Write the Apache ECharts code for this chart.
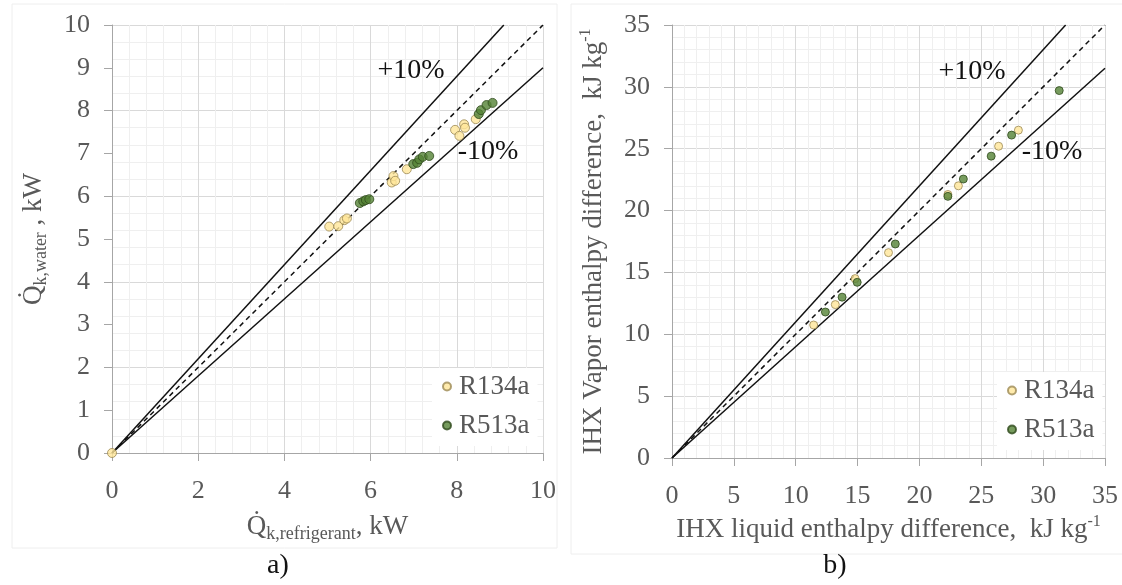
<!DOCTYPE html>
<html>
<head>
<meta charset="utf-8">
<script src="https://cdn.jsdelivr.net/npm/echarts@6/dist/echarts.min.js"></script>
<style>
  html, body { margin: 0; padding: 0; background: #fff; }
  #chart { width: 1122px; height: 585px; }
</style>
</head>
<body>
<div id="chart"></div>
<script>
// a) condenser capacity: water side vs refrigerant side, kW
const qRefrigR134a = [0, 5.04, 5.25, 5.39, 5.45, 6.49, 6.53, 6.57, 6.84, 7.96, 8.06, 8.17, 8.19, 8.44];
const qWaterR134a  = [0, 5.29, 5.30, 5.44, 5.48, 6.32, 6.47, 6.36, 6.63, 7.55, 7.41, 7.68, 7.60, 7.80];
const qRefrigR513a = [5.75, 5.83, 5.89, 5.97, 6.99, 7.08, 7.13, 7.21, 7.36, 8.51, 8.56, 8.69, 8.83];
const qWaterR513a  = [5.84, 5.88, 5.91, 5.93, 6.75, 6.78, 6.86, 6.92, 6.94, 7.92, 8.01, 8.13, 8.18];

// b) internal heat exchanger: vapour side vs liquid side enthalpy difference, kJ/kg
const ihxLiquidR134a = [11.45, 13.2, 14.8, 17.5, 22.3, 23.15, 26.4, 28.0];
const ihxVaporR134a  = [10.75, 12.4, 14.5, 16.6, 21.3, 22.0, 25.2, 26.5];
const ihxLiquidR513a = [12.4, 13.75, 14.97, 18.05, 22.3, 23.55, 25.8, 27.45, 31.3];
const ihxVaporR513a  = [11.8, 13.0, 14.2, 17.3, 21.15, 22.55, 24.4, 26.1, 29.7];

const seriesNames = ['R134a', 'R513a'];
const bandFactors = [1.1, 1.0, 0.9];       // +10 %, 1:1, -10 %
const axisMaxA = 10, axisMaxB = 35;

const SERIF = "'Liberation Serif', 'Times New Roman', serif";
const GREY = '#595959';

const pairs = (xs, ys) => xs.map((x, i) => [x, ys[i]]);
// straight line y = f·x from the origin to the edge of the square plot
const bandLine = (f, max) => [[0, 0], [Math.min(max, max / f), Math.min(max, max * f)]];

const r134aStyle = { color: '#FFE699', borderColor: '#9C8A55', borderWidth: 1 };
const r513aStyle = { color: '#548235', borderColor: '#2F4A1D', borderWidth: 1 };

function refLines(xi, yi, max) {
  return bandFactors.map(f => ({
    type: 'line', xAxisIndex: xi, yAxisIndex: yi, symbol: 'none', silent: true,
    data: bandLine(f, max), z: 3,
    lineStyle: { color: '#111', width: 1.5, type: f === 1 ? [5, 4] : 'solid' }
  }));
}

function scatter(name, xi, yi, data, style, size) {
  return {
    type: 'scatter', name, xAxisIndex: xi, yAxisIndex: yi, data,
    symbol: 'circle', symbolSize: size, itemStyle: style, clip: false, z: 5
  };
}

const nameRich = {
  sub: { fontSize: 18, fontFamily: SERIF, color: GREY, verticalAlign: 'bottom', lineHeight: 17 },
  sup: { fontSize: 16, fontFamily: SERIF, color: GREY, verticalAlign: 'top', lineHeight: 16 }
};
const nameStyle = { fontSize: 27, fontFamily: SERIF, color: GREY, lineHeight: 32, rich: nameRich };
const labelStyle = { fontSize: 26, fontFamily: SERIF, color: GREY };
const axisLine = { show: true, lineStyle: { color: '#a6a6a6', width: 1 } };
const axisTick = { show: true, length: 8, lineStyle: { color: '#a6a6a6' } };
const splitLine = { show: true, lineStyle: { color: '#d9d9d9', width: 1 } };
const minorSplit = { show: true, lineStyle: { color: '#efefef', width: 1 } };

const legendBase = {
  orient: 'vertical', data: seriesNames, icon: 'circle',
  itemWidth: 8, itemHeight: 8, itemGap: 12,
  backgroundColor: '#fff', padding: [5, 8, 7, 10],
  textStyle: { fontSize: 27, fontFamily: SERIF, color: GREY, padding: [0, 0, 0, 3] }
};

const option = {
  animation: false,
  backgroundColor: '#fff',
  grid: [
    { left: 112, top: 25, width: 431, height: 428 },
    { left: 672, top: 25, width: 433, height: 433 }
  ],
  xAxis: [
    {
      type: 'value', gridIndex: 0, min: 0, max: axisMaxA, interval: 2,
      axisLine, axisTick, axisLabel: { ...labelStyle, margin: 25 },
      splitLine, minorSplitLine: minorSplit, minorTick: { show: false, splitNumber: 5 },
      name: 'Q\u0307{sub|k,refrigerant}, kW', nameLocation: 'middle', nameGap: 58, nameTextStyle: nameStyle
    },
    {
      type: 'value', gridIndex: 1, min: 0, max: axisMaxB, interval: 5,
      axisLine, axisTick, axisLabel: { ...labelStyle, margin: 25 },
      splitLine, minorSplitLine: minorSplit, minorTick: { show: false, splitNumber: 5 },
      name: 'IHX liquid enthalpy difference,  kJ kg{sup|-1}', nameLocation: 'middle', nameGap: 56, nameTextStyle: nameStyle
    }
  ],
  yAxis: [
    {
      type: 'value', gridIndex: 0, min: 0, max: axisMaxA, interval: 1,
      axisLine, axisTick, axisLabel: { ...labelStyle, margin: 22 },
      splitLine: { show: false },
      name: 'Q\u0307{sub|k,water} , kW', nameLocation: 'middle', nameGap: 62, nameTextStyle: nameStyle
    },
    {
      // grid lines of panel a): major every 2 kW, minor every 0.4 kW
      type: 'value', gridIndex: 0, min: 0, max: axisMaxA, interval: 2,
      axisLine: { show: false }, axisTick: { show: false }, axisLabel: { show: false },
      splitLine, minorSplitLine: minorSplit, minorTick: { show: false, splitNumber: 5 }
    },
    {
      type: 'value', gridIndex: 1, min: 0, max: axisMaxB, interval: 5,
      axisLine, axisTick, axisLabel: { ...labelStyle, margin: 22 },
      splitLine, minorSplitLine: minorSplit, minorTick: { show: false, splitNumber: 5 },
      name: 'IHX Vapor enthalpy difference,  kJ kg{sup|-1}', nameLocation: 'middle', nameGap: 62, nameTextStyle: nameStyle
    }
  ],
  legend: [
    { ...legendBase, left: 432, top: 368 },
    { ...legendBase, left: 997, top: 372 }
  ],
  series: [
    ...refLines(0, 0, axisMaxA),
    scatter(seriesNames[0], 0, 0, pairs(qRefrigR134a, qWaterR134a), r134aStyle, 9),
    scatter(seriesNames[1], 0, 0, pairs(qRefrigR513a, qWaterR513a), r513aStyle, 9),
    ...refLines(1, 2, axisMaxB),
    scatter(seriesNames[0], 1, 2, pairs(ihxLiquidR134a, ihxVaporR134a), r134aStyle, 8),
    scatter(seriesNames[1], 1, 2, pairs(ihxLiquidR513a, ihxVaporR513a), r513aStyle, 8)
  ],
  graphic: [
    { type: 'rect', z: -10, shape: { x: 12, y: 4, width: 545, height: 544 },
      style: { fill: 'none', stroke: '#eeeeee', lineWidth: 1 } },
    { type: 'rect', z: -10, shape: { x: 571, y: 4, width: 560, height: 550 },
      style: { fill: 'none', stroke: '#eeeeee', lineWidth: 1 } },
    ...[
      ['+10%', 411, 71], ['-10%', 488, 152],
      ['+10%', 972, 72], ['-10%', 1052, 152],
      ['a)', 278, 566], ['b)', 835, 566]
    ].map(([t, x, y]) => ({
      type: 'text', x, y, z: 20,
      style: { text: t, fill: '#111', font: '28px ' + SERIF, textAlign: 'center', textVerticalAlign: 'middle', verticalAlign: 'middle' }
    }))
  ]
};

const chart = echarts.init(document.getElementById('chart'), null, { renderer: 'canvas' });
chart.setOption(option);
</script>
</body>
</html>
